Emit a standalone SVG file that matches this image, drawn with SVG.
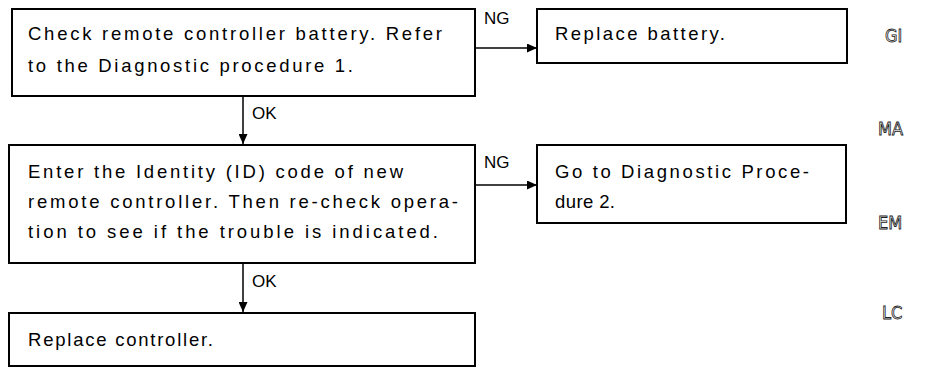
<svg xmlns="http://www.w3.org/2000/svg" width="927" height="369" viewBox="0 0 927 369">
<style>
.box{fill:#fff;stroke:#000;stroke-width:2}
.t{font-family:"Liberation Sans",Arial,sans-serif;font-size:18.5px;fill:#000}
.lbl{font-family:"Liberation Sans",Arial,sans-serif;font-size:17px;fill:#000}
.side{font-family:"DejaVu Sans Condensed","Liberation Sans",sans-serif;font-size:18px;fill:#fff;stroke:#222;stroke-width:0.8}
.c{stroke:#000;stroke-width:1.5;fill:none}
</style>
<defs>
<marker id="ah" markerWidth="10" markerHeight="9" refX="10" refY="4.5" orient="auto" markerUnits="userSpaceOnUse">
<path d="M0,0 L10,4.5 L0,9 Z" fill="#000"/>
</marker>
</defs>
<rect width="927" height="369" fill="#fff"/>
<g id="connectors">
<line class="c" x1="475" y1="48" x2="537" y2="48" marker-end="url(#ah)"/>
<text class="lbl" x="484" y="24">NG</text>
<line class="c" x1="243" y1="96" x2="243" y2="144" marker-end="url(#ah)"/>
<text class="lbl" x="252" y="119">OK</text>
<line class="c" x1="475" y1="185" x2="537" y2="185" marker-end="url(#ah)"/>
<text class="lbl" x="484" y="168">NG</text>
<line class="c" x1="243" y1="263" x2="243" y2="312" marker-end="url(#ah)"/>
<text class="lbl" x="252" y="287">OK</text>
</g>
<g id="n1">
<rect class="box" x="12" y="9" width="463" height="87"/>
<text class="t" x="28" y="40" textLength="414" lengthAdjust="spacing">Check remote controller battery. Refer</text>
<text class="t" x="28" y="72" textLength="325" lengthAdjust="spacing">to the Diagnostic procedure 1.</text>
</g>
<g id="n2">
<rect class="box" x="537" y="9" width="310" height="54"/>
<text class="t" x="555" y="40" textLength="170" lengthAdjust="spacing">Replace battery.</text>
</g>
<g id="n3">
<rect class="box" x="9" y="145" width="466" height="118"/>
<text class="t" x="28" y="178" textLength="375" lengthAdjust="spacing">Enter the Identity (ID) code of new</text>
<text class="t" x="28" y="208" textLength="430" lengthAdjust="spacing">remote controller. Then re-check opera-</text>
<text class="t" x="28" y="238" textLength="410" lengthAdjust="spacing">tion to see if the trouble is indicated.</text>
</g>
<g id="n4">
<rect class="box" x="537" y="145" width="309" height="78"/>
<text class="t" x="555" y="178" textLength="254" lengthAdjust="spacing">Go to Diagnostic Proce-</text>
<text class="t" x="555" y="208" textLength="60" lengthAdjust="spacing">dure 2.</text>
</g>
<g id="n5">
<rect class="box" x="9" y="313" width="466" height="53"/>
<text class="t" x="28" y="346" textLength="185" lengthAdjust="spacing">Replace controller.</text>
</g>
<g id="side">
<text class="side" x="885" y="42">GI</text>
<text class="side" x="878" y="135">MA</text>
<text class="side" x="878" y="229">EM</text>
<text class="side" x="882" y="319">LC</text>
</g>
</svg>
